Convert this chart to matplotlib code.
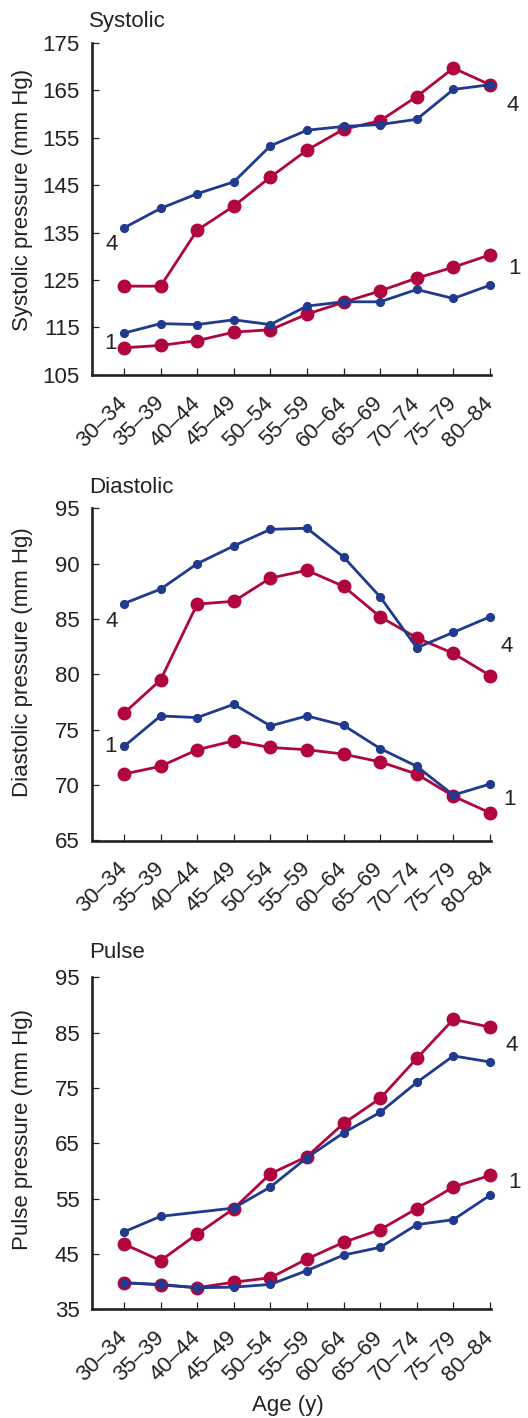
import matplotlib.pyplot as plt
import matplotlib.transforms as mtransforms
import numpy as np

plt.rcParams['font.family'] = ['Liberation Sans', 'DejaVu Sans']

age_groups = ['30–34', '35–39', '40–44', '45–49', '50–54', '55–59',
              '60–64', '65–69', '70–74', '75–79', '80–84']

# systolic (mm Hg)
sys_red_4 = [123.7, 123.7, 135.5, 140.6, 146.7, 152.4, 156.8, 158.6, 163.7, 169.7, 166.2]
sys_blue_4 = [136.0, 140.1, 143.2, 145.7, 153.3, 156.6, 157.4, 157.8, 158.9, 165.2, 166.2]
sys_red_1 = [110.7, 111.2, 112.2, 114.0, 114.5, 117.8, 120.3, 122.7, 125.4, 127.7, 130.3]
sys_blue_1 = [113.8, 115.8, 115.6, 116.6, 115.6, 119.5, 120.4, 120.4, 123.0, 121.1, 123.9]

# diastolic (mm Hg)
dia_red_4 = [76.5, 79.5, 86.35, 86.6, 88.7, 89.4, 87.95, 85.2, 83.3, 81.9, 79.9]
dia_blue_4 = [86.4, 87.7, 90.0, 91.6, 93.1, 93.2, 90.6, 87.0, 82.4, 83.8, 85.2]
dia_red_1 = [71.0, 71.7, 73.2, 74.0, 73.4, 73.2, 72.8, 72.1, 71.0, 69.0, 67.5]
dia_blue_1 = [73.5, 76.25, 76.1, 77.3, 75.35, 76.25, 75.4, 73.3, 71.7, 69.1, 70.1]

# pulse (mm Hg); blue group 4 has no point at 40-44
pul_red_4 = [46.8, 43.8, 48.6, 53.2, 59.5, 62.6, 68.6, 73.1, 80.35, 87.4, 86.0]
pul_blue_4 = [49.0, 51.8, None, 53.3, 57.1, 62.4, 66.9, 70.6, 76.0, 80.8, 79.7]
pul_red_1 = [39.8, 39.4, 38.9, 39.9, 40.7, 44.1, 47.1, 49.4, 53.2, 57.1, 59.2]
pul_blue_1 = [39.8, 39.5, 38.9, 39.0, 39.5, 42.0, 44.8, 46.2, 50.3, 51.2, 55.6]

RED = '#B0063D'
BLUE = '#1F3A8F'
INK = '#222222'
FS = 16

fig = plt.figure(figsize=(5.28, 14.18), dpi=100)
W, H = 528, 1418


def px_axes(top, bottom):
    return [92 / W, 1 - bottom / H, (490.7 - 92) / W, (bottom - top) / H]


panels = [
    dict(title='Systolic', ylabel='Systolic pressure (mm Hg)',
         top=43, bottom=374.8, title_y=27, ylabel_y=200,
         ylim=(105, 175), yticks=np.arange(105, 176, 10),
         series=[(sys_red_4, sys_blue_4), (sys_red_1, sys_blue_1)],
         notes=[('4', -0.33, 132.4), ('1', -0.36, 111.5),
                ('4', 10.61, 161.8), ('1', 10.68, 127.5)]),
    dict(title='Diastolic', ylabel='Diastolic pressure (mm Hg)',
         top=508.3, bottom=840.5, title_y=493, ylabel_y=662,
         ylim=(65, 95), yticks=np.arange(65, 96, 5),
         series=[(dia_red_4, dia_blue_4), (dia_red_1, dia_blue_1)],
         notes=[('4', -0.33, 84.75), ('1', -0.37, 73.5),
                ('4', 10.46, 82.5), ('1', 10.54, 68.7)]),
    dict(title='Pulse', ylabel='Pulse pressure (mm Hg)',
         top=977.3, bottom=1309.3, title_y=958, ylabel_y=1130,
         ylim=(35, 95), yticks=np.arange(35, 96, 10),
         series=[(pul_red_4, pul_blue_4), (pul_red_1, pul_blue_1)],
         notes=[('4', 10.60, 82.75), ('1', 10.68, 58.0)]),
]

x = np.arange(len(age_groups))
shift = mtransforms.ScaledTranslation(5 / 100, 0, fig.dpi_scale_trans)

for p in panels:
    ax = fig.add_axes(px_axes(p['top'], p['bottom']))
    for red, blue in p['series']:
        r = np.array(red, dtype=float)
        b = np.array([np.nan if v is None else v for v in blue], dtype=float)
        ax.plot(x, r, '-o', color=RED, lw=2.0, ms=9, clip_on=False, zorder=3)
        m = ~np.isnan(b)
        ax.plot(x[m], b[m], '-o', color=BLUE, lw=2.0, ms=5.6, clip_on=False, zorder=4)

    ax.set_xlim(-0.874, 10.02)
    ax.set_ylim(*p['ylim'])
    ax.set_yticks(p['yticks'])
    ax.set_xticks(x)
    ax.set_xticklabels(age_groups, rotation=45, ha='right', va='center',
                       rotation_mode='anchor')
    for lab in ax.get_xticklabels():
        lab.set_transform(lab.get_transform() + shift)
    for s in ['top', 'right']:
        ax.spines[s].set_visible(False)
    for s in ['left', 'bottom']:
        ax.spines[s].set_linewidth(1.9)
        ax.spines[s].set_color(INK)
    ax.tick_params(axis='both', direction='in', length=5, width=0.9,
                   colors=INK, labelsize=FS, labelcolor=INK)
    ax.tick_params(axis='y', pad=9)
    ax.tick_params(axis='x', pad=18)

    for txt, tx, ty in p['notes']:
        ax.text(tx, ty, txt, fontsize=FS, color=INK, ha='center',
                va='center', clip_on=False)

    fig.text(89 / W, 1 - p['title_y'] / H, p['title'], fontsize=FS,
             color=INK, ha='left', va='baseline')
    fig.text(33 / W, 1 - p['ylabel_y'] / H, p['ylabel'], fontsize=FS,
             color=INK, rotation=90, ha='right', va='center')

fig.text(288 / W, 1 - 1406 / H, 'Age (y)', fontsize=FS, color=INK,
         ha='center', va='center')

plt.savefig('out.png', dpi=100)
